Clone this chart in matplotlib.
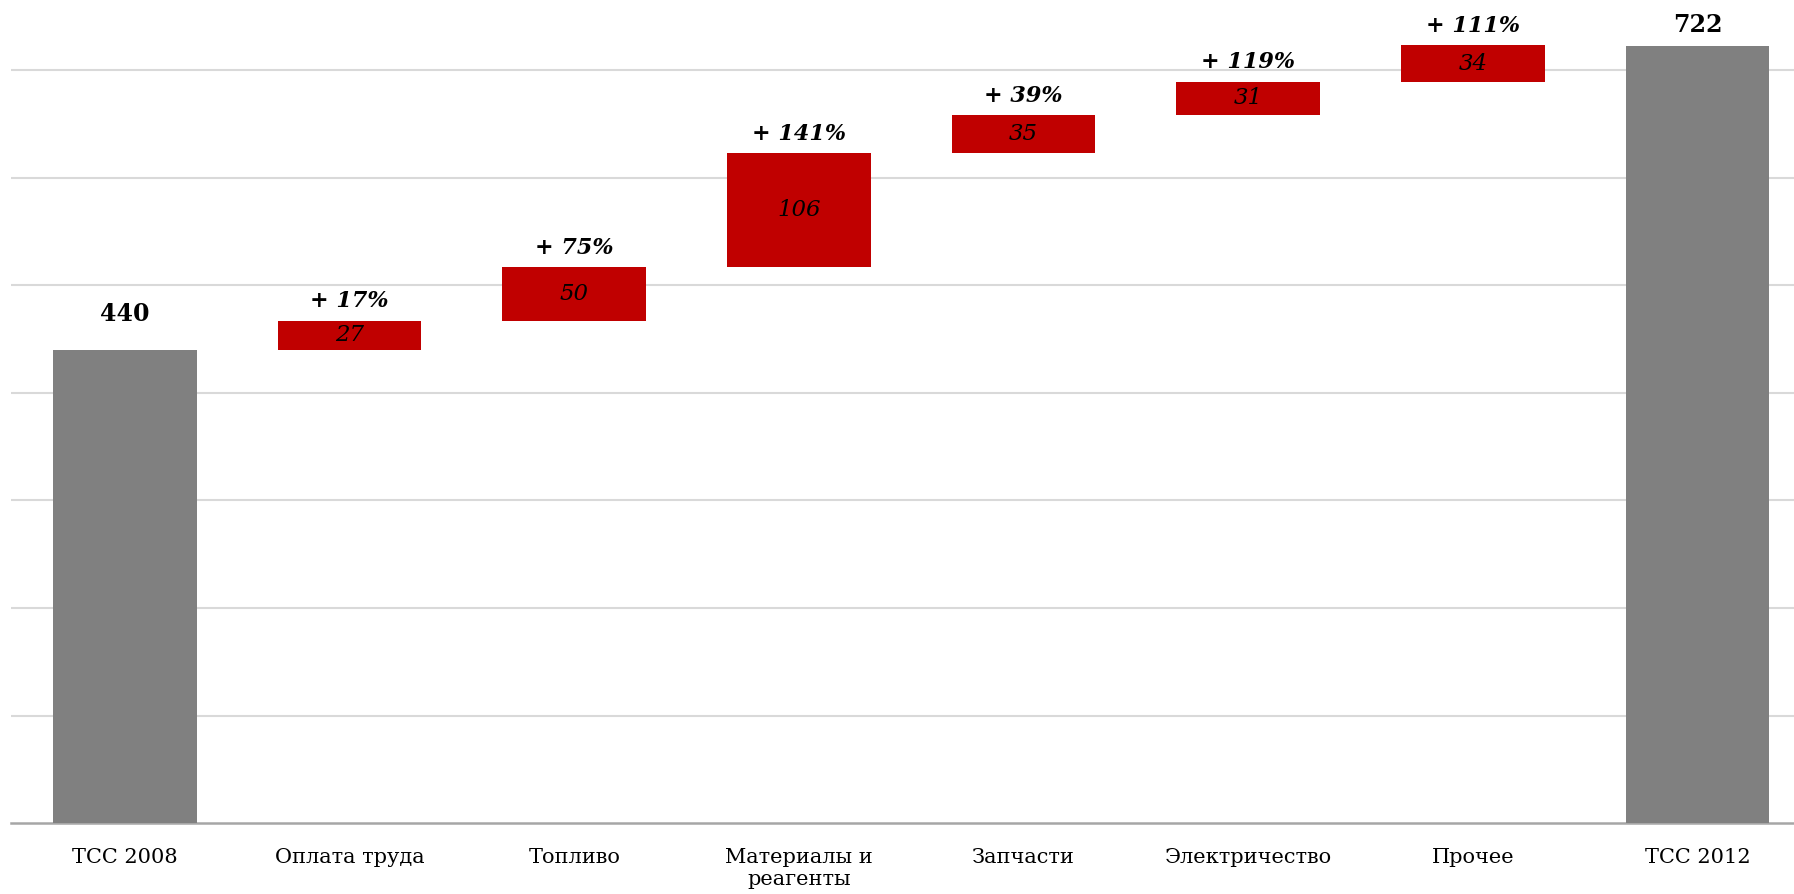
import matplotlib
matplotlib.use("Agg")
import matplotlib.pyplot as plt
import numpy as np

categories = ["ТСС 2008", "Оплата труда", "Топливо", "Материалы и\nреагенты",
              "Запчасти", "Электричество", "Прочее", "ТСС 2012"]
start_total = 440
end_total = 722
changes = [27, 50, 106, 35, 31, 34]
pct_growth = [17, 75, 141, 39, 119, 111]

plt.rcParams['font.family'] = ['DejaVu Serif']

fig = plt.figure(figsize=(17.94, 8.94), dpi=100)
ax = fig.add_axes([0.0064, 0.079, 0.9936, 0.921])

RED = "#C00000"
GREY = "#808080"
width = 0.64

x = np.arange(len(categories))
# totals
ax.bar(x[0], start_total, width=width, color=GREY, zorder=3)
ax.bar(x[-1], end_total, width=width, color=GREY, zorder=3)
bottoms = start_total + np.concatenate([[0], np.cumsum(changes)[:-1]])
ax.bar(x[1:-1], changes, bottom=bottoms, width=width, color=RED, zorder=3)

# labels
ax.annotate(f"{start_total}", (x[0], start_total), xytext=(0, 17), textcoords="offset points",
            ha="center", va="bottom", fontsize=17, fontweight="bold")
ax.annotate(f"{end_total}", (x[-1], end_total), xytext=(0, 7), textcoords="offset points",
            ha="center", va="bottom", fontsize=17, fontweight="bold")
for xi, b, c, p in zip(x[1:-1], bottoms, changes, pct_growth):
    ax.text(xi, b + c / 2, f"{c}", ha="center", va="center", fontsize=16.5,
            fontstyle="italic", color="black", zorder=4)
    ax.annotate(f"+ {p}%", (xi, b + c), xytext=(0, 6), textcoords="offset points",
                ha="center", va="bottom", fontsize=16, fontweight="bold", fontstyle="italic")

ax.set_xlim(-0.505, 7.43)
ax.set_ylim(0, 765)
ax.set_yticks(np.arange(100, 701, 100))
ax.yaxis.grid(True, color="#D9D9D9", linewidth=1.5, zorder=0)
ax.set_axisbelow(True)
ax.tick_params(axis="y", left=False, labelleft=False)
ax.tick_params(axis="x", bottom=False, pad=14, labelsize=15)
ax.set_xticks(x)
ax.set_xticklabels(categories, linespacing=1.2, va="top")
for s in ["top", "right", "left"]:
    ax.spines[s].set_visible(False)
ax.spines["bottom"].set_color("#A6A6A6")
ax.spines["bottom"].set_linewidth(1.8)

fig.savefig("out.png", dpi=100)
